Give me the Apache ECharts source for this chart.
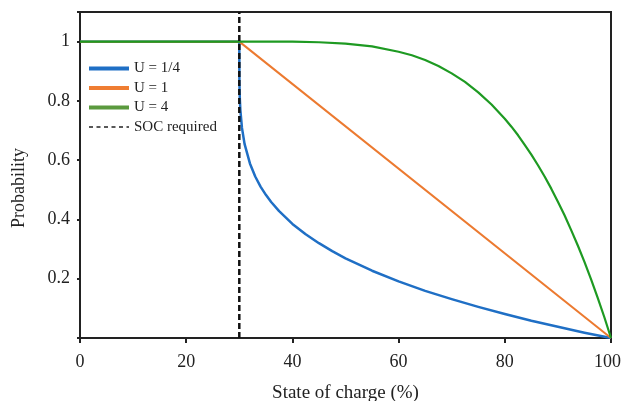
<!DOCTYPE html>
<html>
<head>
<meta charset="utf-8">
<script src="https://cdn.jsdelivr.net/npm/echarts@6/dist/echarts.min.js"></script>
<style>
html,body{margin:0;padding:0;background:#fff;}
#c{width:623px;height:401px;}
</style>
</head>
<body>
<div id="c"></div>
<script>
const xTicks = [0, 20, 40, 60, 80, 100];
const socRequired = 30;

const socBlue = [0, 30, 30.02, 30.05, 30.1, 30.2, 30.5, 31, 32, 33, 34, 35, 36, 37.5, 40, 42.5, 45, 47.5, 50, 55, 60, 65, 70, 75, 80, 85, 90, 95, 100];
const probBlue = [1, 1, 0.870, 0.84, 0.806, 0.769, 0.709, 0.654, 0.589, 0.545, 0.511, 0.483, 0.459, 0.428, 0.385, 0.350, 0.320, 0.293, 0.269, 0.227, 0.191, 0.159, 0.131, 0.105, 0.081, 0.058, 0.038, 0.018, 0];

const socOrange = [0, 30, 100];
const probOrange = [1, 1, 0];

const socGreen = [0, 30, 35, 40, 45, 50, 55, 60, 62.5, 65, 67.5, 70, 72.5, 75, 77.5, 80, 81.25, 82.5, 83.75, 85, 86.25, 87.5, 88.75, 90, 91.25, 92.5, 93.75, 95, 96.25, 97.5, 98.75, 100];
const probGreen = [1, 1, 1.0, 1.0, 0.998, 0.993, 0.984, 0.966, 0.954, 0.938, 0.918, 0.893, 0.864, 0.829, 0.788, 0.740, 0.713, 0.684, 0.652, 0.619, 0.583, 0.545, 0.504, 0.460, 0.414, 0.364, 0.312, 0.257, 0.198, 0.135, 0.070, 0];

const socLine = [socRequired, socRequired];
const probLine = [0, 1.1];

const names = ['U = 1/4', 'U = 1', 'U = 4', 'SOC required'];

function pairs(xs, ys) { return xs.map((x, i) => [x, ys[i]]); }

const font = '"Liberation Serif", "Times New Roman", serif';
const chart = echarts.init(document.getElementById('c'), null, {renderer: 'canvas'});
chart.setOption({
  animation: false,
  backgroundColor: '#fff',
  grid: {left: 80, right: 12, top: 12, bottom: 63, outerBoundsMode: 'none', containLabel: false,
    show: true, borderColor: '#222', borderWidth: 2, backgroundColor: 'transparent'},
  legend: {
    orient: 'vertical', left: 82, top: 56,
    itemWidth: 40, itemHeight: 14, itemGap: 4.5,
    textStyle: {fontFamily: font, fontSize: 15, color: '#222'},
    data: [
      {name: names[0], itemStyle: {opacity: 0}, lineStyle: {color: '#1f6fc5', width: 4}},
      {name: names[1], itemStyle: {opacity: 0}, lineStyle: {color: '#ef7d32', width: 4}},
      {name: names[2], itemStyle: {opacity: 0}, lineStyle: {color: '#5b9a3e', width: 4}},
      {name: names[3], itemStyle: {opacity: 0}, lineStyle: {color: '#222', width: 1.6, type: [4, 3.5]}}
    ]
  },
  xAxis: {
    type: 'value', min: 0, max: 100, interval: 20,
    name: 'State of charge (%)', nameLocation: 'middle', nameGap: 46,
    nameTextStyle: {fontFamily: font, fontSize: 19, color: '#222'},
    axisLine: {show: true, lineStyle: {color: '#222', width: 2}},
    axisTick: {show: true, length: 5, inside: false, lineStyle: {color: '#222', width: 2}},
    axisLabel: {fontFamily: font, fontSize: 18, color: '#222', margin: 15,
      formatter: v => xTicks.indexOf(v) < 0 ? '' : (v === 100 ? '{r|' + v + '}' : String(v)),
      rich: {r: {fontFamily: font, fontSize: 18, color: '#222', padding: [0, 7, 0, 0]}}},
    splitLine: {show: false}
  },
  yAxis: {
    type: 'value', min: 0, max: 1.1, interval: 0.2,
    name: 'Probability', nameLocation: 'middle', nameGap: 52, nameRotate: 90,
    nameTextStyle: {fontFamily: font, fontSize: 18, color: '#222', padding: [0, 26, 0, 0]},
    axisLine: {show: true, lineStyle: {color: '#222', width: 2}},
    axisTick: {show: true, length: 3, inside: false, lineStyle: {color: '#222', width: 2}},
    axisLabel: {fontFamily: font, fontSize: 18, color: '#222', margin: 10,
      formatter: v => (v < 0.01 || v > 1.05) ? '' : String(+v.toFixed(1))},
    splitLine: {show: false}
  },
  series: [
    {name: names[0], type: 'line', data: pairs(socBlue, probBlue), showSymbol: false, symbol: 'none',
      lineStyle: {color: '#1f6fc5', width: 2.5, join: 'round'}, itemStyle: {color: '#1f6fc5'}},
    {name: names[1], type: 'line', data: pairs(socOrange, probOrange), showSymbol: false, symbol: 'none',
      lineStyle: {color: '#ec7a30', width: 2}, itemStyle: {color: '#ec7a30'}},
    {name: names[2], type: 'line', data: pairs(socGreen, probGreen), showSymbol: false, symbol: 'none',
      lineStyle: {color: '#1e9a22', width: 2.2, join: 'round'}, itemStyle: {color: '#1e9a22'}},
    {name: names[3], type: 'line', data: pairs(socLine, probLine), showSymbol: false, symbol: 'none',
      lineStyle: {color: '#111', width: 2.5, type: [6, 3]}, itemStyle: {color: '#111'}}
  ]
});
</script>
</body>
</html>
